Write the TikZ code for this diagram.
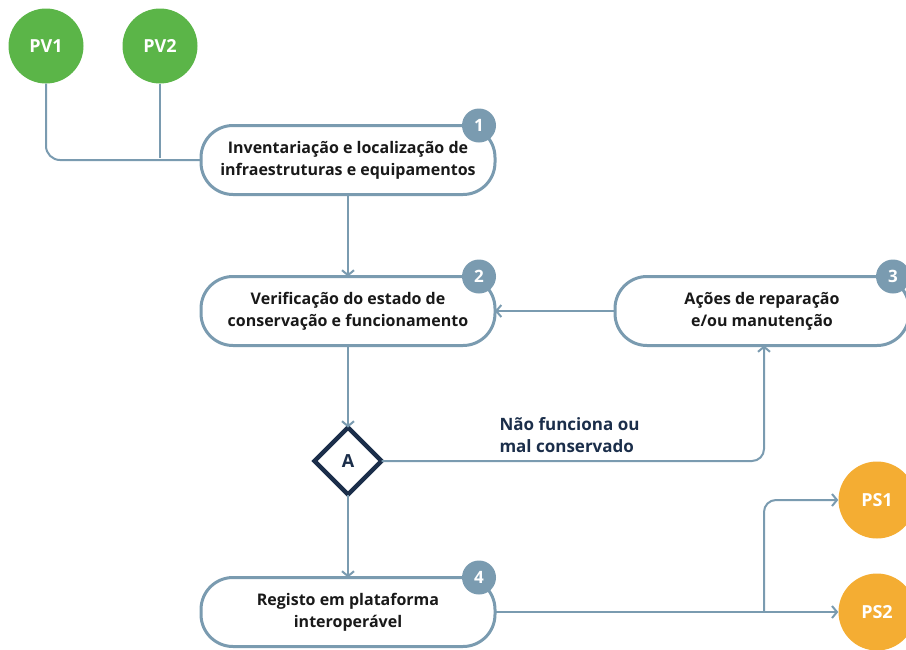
\documentclass[tikz,border=0pt]{standalone}
\usepackage{fontspec}
\setmainfont{Open Sans}
\usetikzlibrary{positioning, arrows.meta, shapes.geometric}

\definecolor{lineblue}{HTML}{7A9BB0}
\definecolor{navy}{HTML}{1B2E4A}
\definecolor{pvgreen}{HTML}{5BB548}
\definecolor{psorange}{HTML}{F4AD33}

\begin{document}
\begin{tikzpicture}[x=1pt, y=-1pt, font=\bfseries\fontsize{16}{22}\selectfont,
  stepbox/.style={rectangle, rounded corners=32pt, draw=lineblue, line width=3pt, fill=white, outer sep=0pt, minimum width=294pt, minimum height=69pt, align=center, text=black!90},
  badge/.style={circle, fill=lineblue, text=white, minimum size=34pt, inner sep=0pt, font=\bfseries\fontsize{17}{20}\selectfont},
  source/.style={circle, fill=pvgreen, text=white, minimum size=75pt, inner sep=0pt, font=\bfseries\fontsize{18}{20}\selectfont},
  sink/.style={circle, fill=psorange, text=white, minimum size=77pt, inner sep=0pt, font=\bfseries\fontsize{18}{20}\selectfont},
  check/.style={diamond, draw=navy, line width=4.5pt, fill=white, outer sep=0pt, inner sep=0pt, minimum width=67pt, minimum height=67pt, text=navy, font=\bfseries\fontsize{18}{20}\selectfont},
  link/.style={line width=2pt, lineblue},
  arrow/.style={link, -{Straight Barb[length=5pt, width=12pt]}}
]
\useasboundingbox (0,0) rectangle (906,649);

\node[source] (pv1) at (46,46) {PV1};
\node[source] (pv2) at (160,46) {PV2};

\node[stepbox] (inventory) at (348,160) {Inventariação e localização de\\infraestruturas e equipamentos};
\node[stepbox, below=82pt of inventory] (verify) {Verificação do estado de\\conservação e funcionamento};
\node[stepbox, right=120pt of verify] (repair) {Ações de reparação\\e/ou manutenção};
\node[check, below=82pt of verify] (decision) {A};
\node[stepbox, below=83pt of decision] (register) {Registo em plataforma\\interoperável};

\node[badge] (b1) at ([xshift=-16pt]inventory.north east) {1};
\node[badge] (b2) at ([xshift=-16pt]verify.north east) {2};
\node[badge] (b3) at ([xshift=-16pt]repair.north east) {3};
\node[badge] (b4) at ([xshift=-16pt]register.north east) {4};

\node[sink] (ps1) at (877,500) {PS1};
\node[sink] (ps2) at (877,612) {PS2};

\node[text=navy, align=left, anchor=west, font=\bfseries\fontsize{17}{22}\selectfont] (fault) at (496,435) {Não funciona ou\\mal conservado};

\coordinate (merge) at (pv2.south |- 0,158);
\coordinate (split) at (764,612);

\draw[link, rounded corners=14pt] (pv1.south) |- (inventory.west);
\draw[link] (pv2.south) -- (merge);
\draw[arrow] (inventory) -- (verify);
\draw[arrow] (repair) -- (verify);
\draw[arrow] (verify) -- (decision);
\draw[arrow, rounded corners=12pt] (decision.east) -| (split |- repair.south);
\draw[arrow] (decision) -- (register);
\draw[arrow] (register) -- (ps2);
\draw[arrow, rounded corners=12pt] (split) |- (ps1);

\end{tikzpicture}
\end{document}
